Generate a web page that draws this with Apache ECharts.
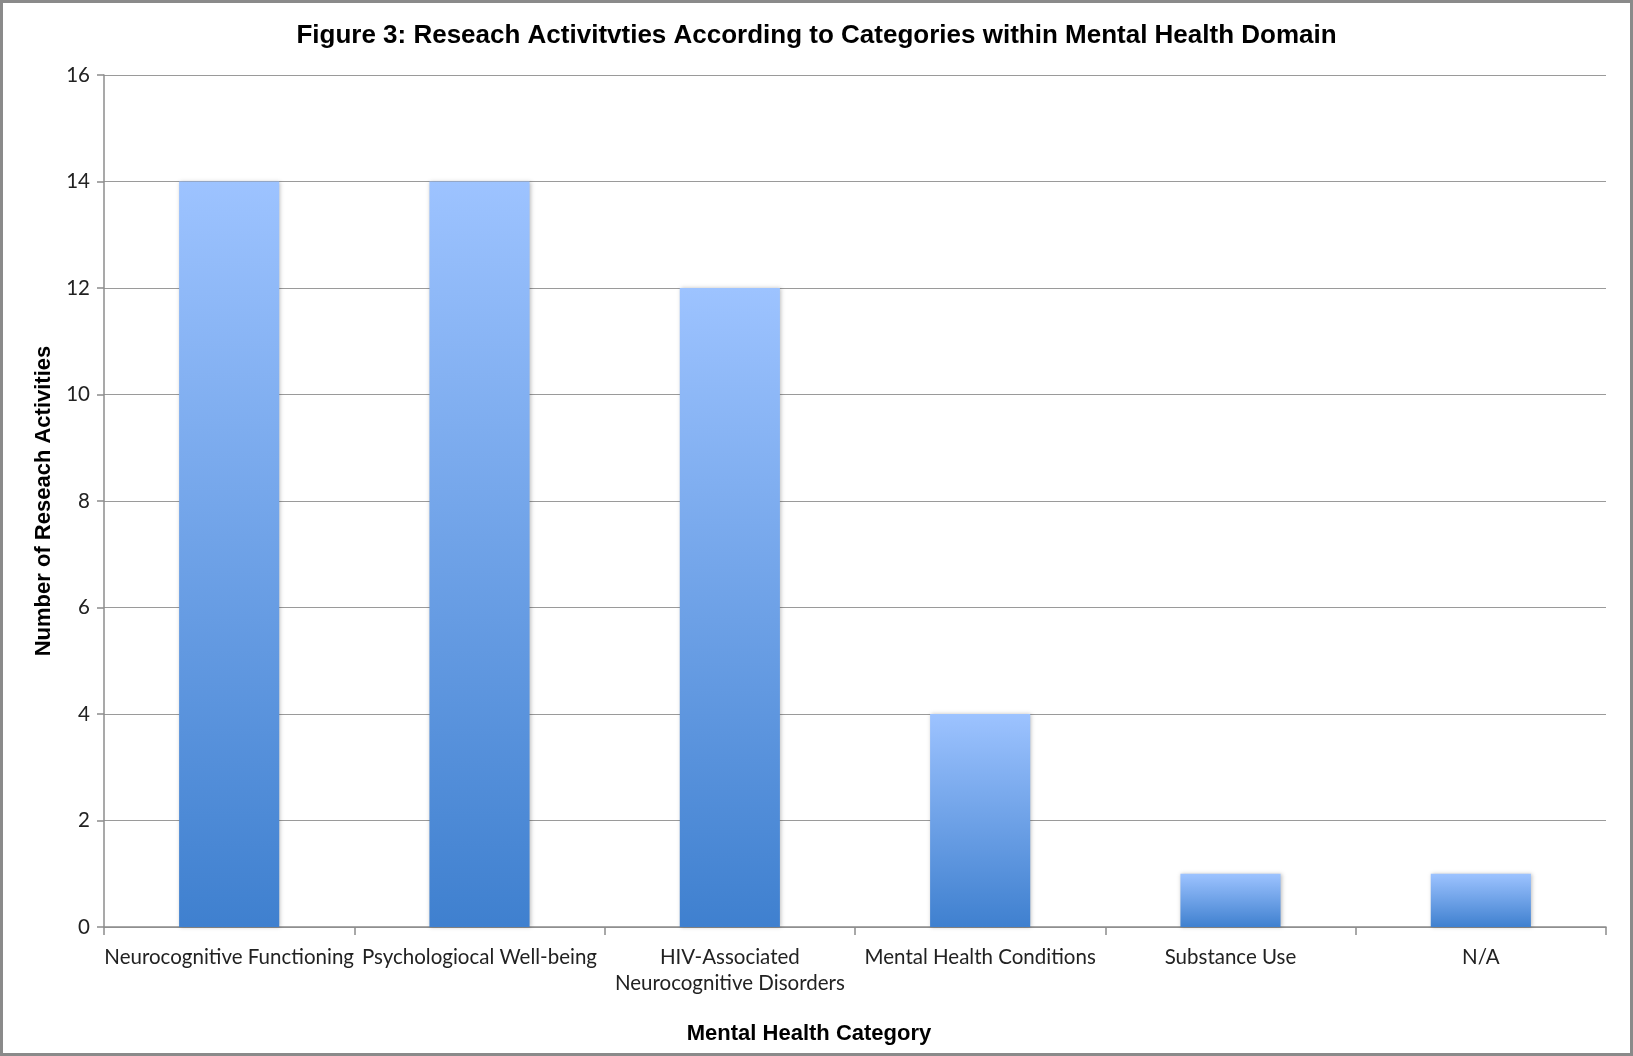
<!DOCTYPE html>
<html><head><meta charset="utf-8">
<script src="https://cdn.jsdelivr.net/npm/echarts@6/dist/echarts.min.js"></script>
<style>html,body{margin:0;padding:0;background:#fff}#c{width:1633px;height:1056px;box-sizing:border-box;border:3px solid #8a8a8a}</style>
</head><body><div id="c"></div>
<script>
const categories = ["Neurocognitive Functioning","Psychologiocal Well-being","HIV-Associated\nNeurocognitive Disorders","Mental Health Conditions","Substance Use","N/A"];
const values = [14,14,12,4,1,1];
const titleText = "Figure 3: Reseach Activitvties According to Categories within Mental Health Domain";
const xName = "Mental Health Category";
const yName = "Number of Reseach Activities";

const chart = echarts.init(document.getElementById('c'));
chart.setOption({
  animation:false,
  backgroundColor:'#fff',
  title:{text:titleText,left:'center',top:15,textStyle:{fontFamily:'Liberation Sans, Arial',fontWeight:'bold',fontSize:26,color:'#000'}},
  grid:{left:101,right:24,top:72,bottom:126},
  xAxis:{type:'category',data:categories,name:xName,nameLocation:'middle',nameGap:96,
    nameTextStyle:{fontFamily:'Liberation Sans, Arial',fontWeight:'bold',fontSize:22,color:'#000',padding:[0,92,0,0]},
    axisLine:{lineStyle:{color:'#8c8c8c',width:1.5}},
    axisTick:{show:true,length:8,lineStyle:{color:'#8c8c8c',width:1.5}},
    axisLabel:{interval:0,fontFamily:'Lato, Open Sans',fontSize:20.5,color:'#222',margin:17,lineHeight:26}},
  yAxis:{type:'value',min:0,max:16,interval:2,name:yName,nameLocation:'middle',nameGap:48,
    nameTextStyle:{fontFamily:'Liberation Sans, Arial',fontWeight:'bold',fontSize:22,color:'#000'},
    axisLine:{show:true,lineStyle:{color:'#8c8c8c',width:1.5}},
    axisTick:{show:true,length:7,lineStyle:{color:'#8c8c8c',width:1.5}},
    splitLine:{lineStyle:{color:'#9a9a9a',width:1.2}},
    axisLabel:{fontFamily:'Lato, Open Sans',fontSize:20.5,color:'#222',margin:14}},
  series:[{type:'bar',data:values,barWidth:'40%',
    itemStyle:{color:new echarts.graphic.LinearGradient(0,0,0,1,[{offset:0,color:'#9dc3ff'},{offset:1,color:'#3f80cf'}]),
      shadowColor:'rgba(0,0,0,0.25)',shadowBlur:4,shadowOffsetX:1,shadowOffsetY:0}}]
});
</script></body></html>
